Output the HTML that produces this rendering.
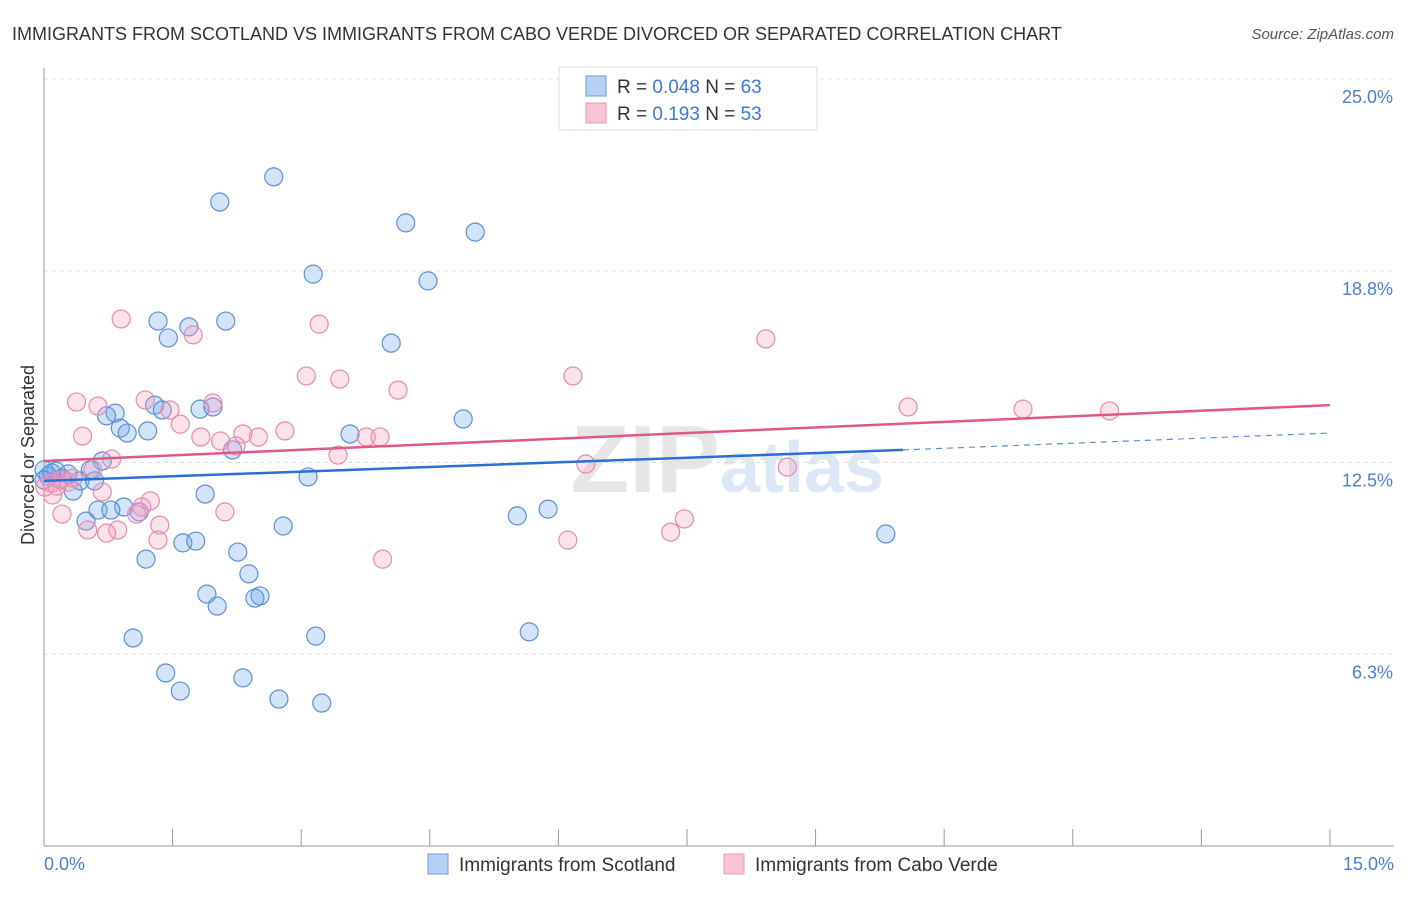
<!DOCTYPE html>
<html><head><meta charset="utf-8"><style>
body{margin:0;background:#fff;font-family:"Liberation Sans",sans-serif;}
svg text{font-family:"Liberation Sans",sans-serif;}
</style></head><body>
<svg id="chart" width="1406" height="892" xmlns="http://www.w3.org/2000/svg">
<text x="12" y="40" font-size="18" fill="#333">IMMIGRANTS FROM SCOTLAND VS IMMIGRANTS FROM CABO VERDE DIVORCED OR SEPARATED CORRELATION CHART</text>
<text x="1394" y="39" font-size="15" fill="#555" text-anchor="end" font-style="italic">Source: ZipAtlas.com</text>
<text x="720" y="492" font-size="96" fill="#e6e6e6" text-anchor="end" font-family="Liberation Serif" font-weight="bold">ZIP</text>
<text x="720" y="492" font-size="72" fill="#dce8f6" font-weight="bold">atlas</text>
<g id="grid"></g><g id="axes"></g><g id="pts"></g><g id="lines"></g>
<text transform="translate(34,455) rotate(-90)" font-size="18" fill="#333" text-anchor="middle">Divorced or Separated</text>
<text x="44" y="870" font-size="18" fill="#4a7fd0">0.0%</text>
<text x="1394" y="870" font-size="18" fill="#4a7fd0" text-anchor="end">15.0%</text>
<g>
<rect x="559" y="67" width="258" height="63" fill="#fff" stroke="#ddd"/>
<rect x="586" y="76" width="20" height="20" fill="#b7d1f5" stroke="#6b9be0"/>
<rect x="586" y="103" width="20" height="20" fill="#f9c5d5" stroke="#ec9ab5"/>
<text x="617" y="93" font-size="19" fill="#333">R = <tspan fill="#3c78d8">0.048</tspan>    N = <tspan fill="#3c78d8">63</tspan></text>
<text x="617" y="120" font-size="19" fill="#333">R =  <tspan fill="#3c78d8">0.193</tspan>    N = <tspan fill="#3c78d8">53</tspan></text>
</g>
<g>
<rect x="428" y="854" width="20" height="20" fill="#b7d1f5" stroke="#6b9be0"/>
<text x="459" y="871" font-size="19" fill="#333">Immigrants from Scotland</text>
<rect x="724" y="854" width="20" height="20" fill="#f9c5d5" stroke="#ec9ab5"/>
<text x="755" y="871" font-size="19" fill="#333">Immigrants from Cabo Verde</text>
</g>
</svg>
<script>
const yTicks=[6.25,12.5,18.75,25];
const yTickLabels=["6.3%","12.5%","18.8%","25.0%"];
const blueX=[2.68,2.05,4.22,5.03,3.14,4.48,1.33,2.12,1.69,1.45,4.05,1.29,0.83,0.73,1.38,1.82,1.97,4.89,0.89,1.21,0.97,3.57,2.20,0.68,0.54,0.14,0.28,0.05,0.21,0.42,0.59,3.08,0.34,1.88,0.93,0.63,0.78,1.11,5.88,5.52,0.49,2.79,1.62,1.77,2.26,1.19,9.82,2.39,1.90,2.52,2.46,2.02,1.04,3.17,5.66,1.42,2.32,1.59,2.74,3.24,0.0,0.09,0.0];
const blueY=[21.81,20.99,20.31,20.01,18.64,18.42,17.11,17.11,16.92,16.56,16.39,14.37,14.11,14.02,14.21,14.24,14.31,13.92,13.62,13.53,13.46,13.43,12.91,12.55,12.26,12.22,12.13,12.06,11.99,11.90,11.90,12.03,11.57,11.47,11.05,10.95,10.95,10.89,10.98,10.76,10.59,10.43,9.88,9.94,9.58,9.35,10.17,8.87,8.21,8.15,8.08,7.82,6.78,6.84,6.98,5.64,5.48,5.05,4.79,4.66,12.26,12.16,11.93];
const pinkX=[0.90,3.21,1.74,8.42,3.06,6.17,3.45,4.13,0.38,0.63,1.18,1.97,1.47,10.08,11.42,12.43,1.59,2.81,0.45,1.83,2.32,2.06,2.50,3.76,3.92,0.79,3.43,2.24,0.57,6.32,8.67,0.09,0.19,0.28,0.68,0.10,1.24,1.14,0.21,1.08,2.11,1.35,0.51,0.86,0.73,1.33,6.11,7.31,7.47,3.95,0.34,0.01,0.15];
const pinkY=[17.18,17.01,16.66,16.53,15.32,15.32,15.22,14.86,14.47,14.34,14.54,14.44,14.21,14.31,14.24,14.18,13.75,13.53,13.36,13.33,13.43,13.20,13.33,13.33,13.33,12.61,12.74,13.04,12.26,12.45,12.35,11.83,11.93,11.86,11.54,11.44,11.25,11.05,10.82,10.82,10.89,10.46,10.30,10.30,10.20,9.97,9.97,10.23,10.66,9.35,11.99,11.70,11.73];
const blueTrend=[11.90,12.91,13.46]; // at x=0, 10.02, 15
const pinkTrend=[12.55,14.37]; // at x=0, 15
const NS="http://www.w3.org/2000/svg";
const sx=v=>44+v*85.73, sy=v=>846-v*30.68;
function mk(tag,attrs,parent){const e=document.createElementNS(NS,tag);for(const k in attrs)e.setAttribute(k,attrs[k]);document.getElementById(parent).appendChild(e);return e;}
yTicks.forEach((t,i)=>{
 const g=mk('line',{x1:44,x2:1394,y1:sy(t),y2:sy(t),stroke:'#ddd','stroke-dasharray':'4,4'},'grid');
 
 
 const tx=mk('text',{x:1393,y:sy(t)+24,'font-size':18,fill:'#4a7fd0','text-anchor':'end'},'grid');
 tx.textContent=yTickLabels[i];
 
 
});
const a1=mk('line',{x1:44,x2:44,y1:68,y2:846,stroke:'#999'},'axes');


const a2=mk('line',{x1:44,x2:1394,y1:846,y2:846,stroke:'#999'},'axes');


for(let i=0;i<=10;i++){const t=mk('line',{x1:sx(i*1.5),x2:sx(i*1.5),y1:829,y2:846,stroke:'#999'},'axes');
 
 }
blueX.forEach((x,i)=>{const c=mk('circle',{cx:sx(x),cy:sy(blueY[i]),r:9,fill:'rgba(110,165,235,0.3)',stroke:'#5b8fd6','stroke-width':1.2},'pts');
 
 });
pinkX.forEach((x,i)=>{const c=mk('circle',{cx:sx(x),cy:sy(pinkY[i]),r:9,fill:'rgba(245,160,190,0.3)',stroke:'#e88aaa','stroke-width':1.2},'pts');
 
 });
const bl=mk('line',{x1:sx(0),y1:sy(blueTrend[0]),x2:sx(10.02),y2:sy(blueTrend[1]),stroke:'#2a6fd6','stroke-width':2.5},'lines');


const bd=mk('line',{x1:sx(10.02),y1:sy(blueTrend[1]),x2:sx(15),y2:sy(blueTrend[2]),stroke:'#5b8fd6','stroke-width':1.2,'stroke-dasharray':'6,5'},'lines');


const pl=mk('line',{x1:sx(0),y1:sy(pinkTrend[0]),x2:sx(15),y2:sy(pinkTrend[1]),stroke:'#e0588a','stroke-width':2.5},'lines');


</script>
</body></html>
